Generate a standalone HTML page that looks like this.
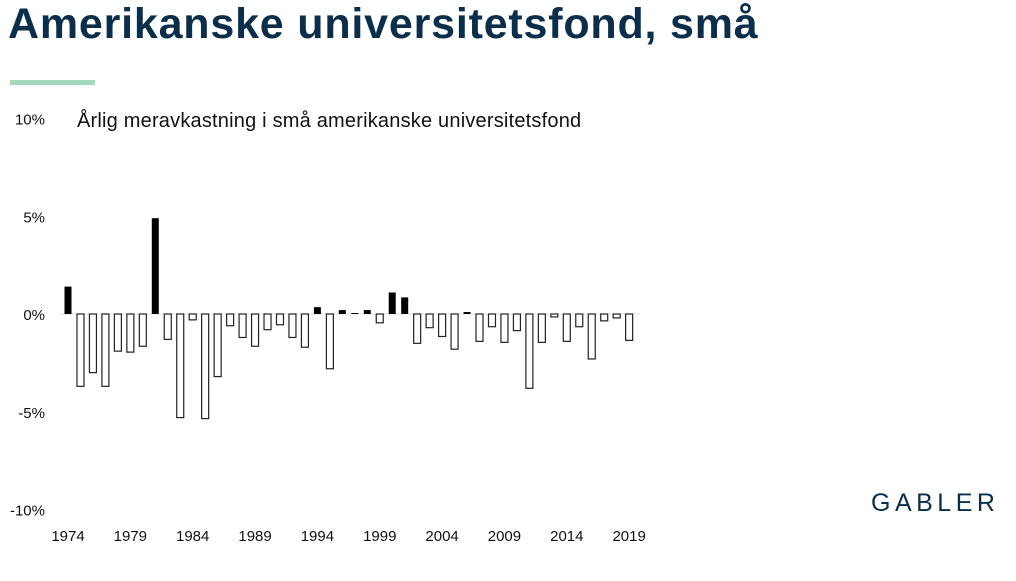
<!DOCTYPE html>
<html><head><meta charset="utf-8"><style>
body{margin:0;width:1016px;height:581px;background:#fff;overflow:hidden;font-family:"Liberation Sans",sans-serif;position:relative}
#title{position:absolute;left:8px;top:0px;font-size:43px;font-weight:bold;color:#0b2f4a;letter-spacing:0.8px;white-space:nowrap}
#accent{position:absolute;left:10px;top:80px;width:85px;height:5px;background:#a3d9bf}
#logo{position:absolute;left:871px;top:489px;font-size:25px;letter-spacing:4.5px;color:#0b2f4a}
svg{position:absolute;left:0;top:0}
</style></head><body>
<div id="title">Amerikanske universitetsfond, små</div>
<div id="accent"></div>
<div id="logo">GABLER</div>
<svg width="1016" height="581" id="chart">
<text x="77" y="127" font-size="20" letter-spacing="0.2" fill="#111">Årlig meravkastning i små amerikanske universitetsfond</text>
</svg>
<script>
const years=[];for(let y=1974;y<=2019;y++)years.push(y);
const values=[1.4,-3.7,-3.0,-3.7,-1.9,-1.95,-1.65,4.9,-1.3,-5.3,-0.3,-5.35,-3.2,-0.6,-1.2,-1.65,-0.8,-0.55,-1.2,-1.7,0.35,-2.8,0.2,0.05,0.2,-0.45,1.1,0.85,-1.5,-0.7,-1.15,-1.8,0.1,-1.4,-0.65,-1.45,-0.85,-3.8,-1.45,-0.15,-1.4,-0.65,-2.3,-0.35,-0.2,-1.35];
const yTicks=[10,5,0,-5,-10];
const yTickLabels=["10%","5%","0%","-5%","-10%"];
const xLabelYears=[1974,1979,1984,1989,1994,1999,2004,2009,2014,2019];
const svg=document.getElementById('chart');const NS='http://www.w3.org/2000/svg';
const yS=v=>314-v*19.55;
const xS=y=>68+(y-1974)*12.47;
function mk(t,a){const e=document.createElementNS(NS,t);for(const k in a)e.setAttribute(k,a[k]);svg.appendChild(e);return e;}
const zl=mk('line',{x1:60,x2:640,y1:314,y2:314,stroke:'#dde3ea','stroke-width':1});


yTicks.forEach((t,i)=>{const e=mk('text',{x:45,y:yS(t)+6,'font-size':15,'text-anchor':'end',fill:'#111'});e.textContent=yTickLabels[i];

});
xLabelYears.forEach(y=>{const e=mk('text',{x:xS(y),y:541,'font-size':15,'text-anchor':'middle',fill:'#111'});e.textContent=y;

});
values.forEach((v,i)=>{const x=xS(years[i]);const y0=yS(0),y1=yS(v);
const r=mk('rect',{x:x-3.5,y:Math.min(y0,y1),width:7,height:Math.max(Math.abs(y1-y0),0.8),fill:v>=0?'#000':'#fff',stroke:v>=0?'none':'#222','stroke-width':1.2});

});
</script>
</body></html>
